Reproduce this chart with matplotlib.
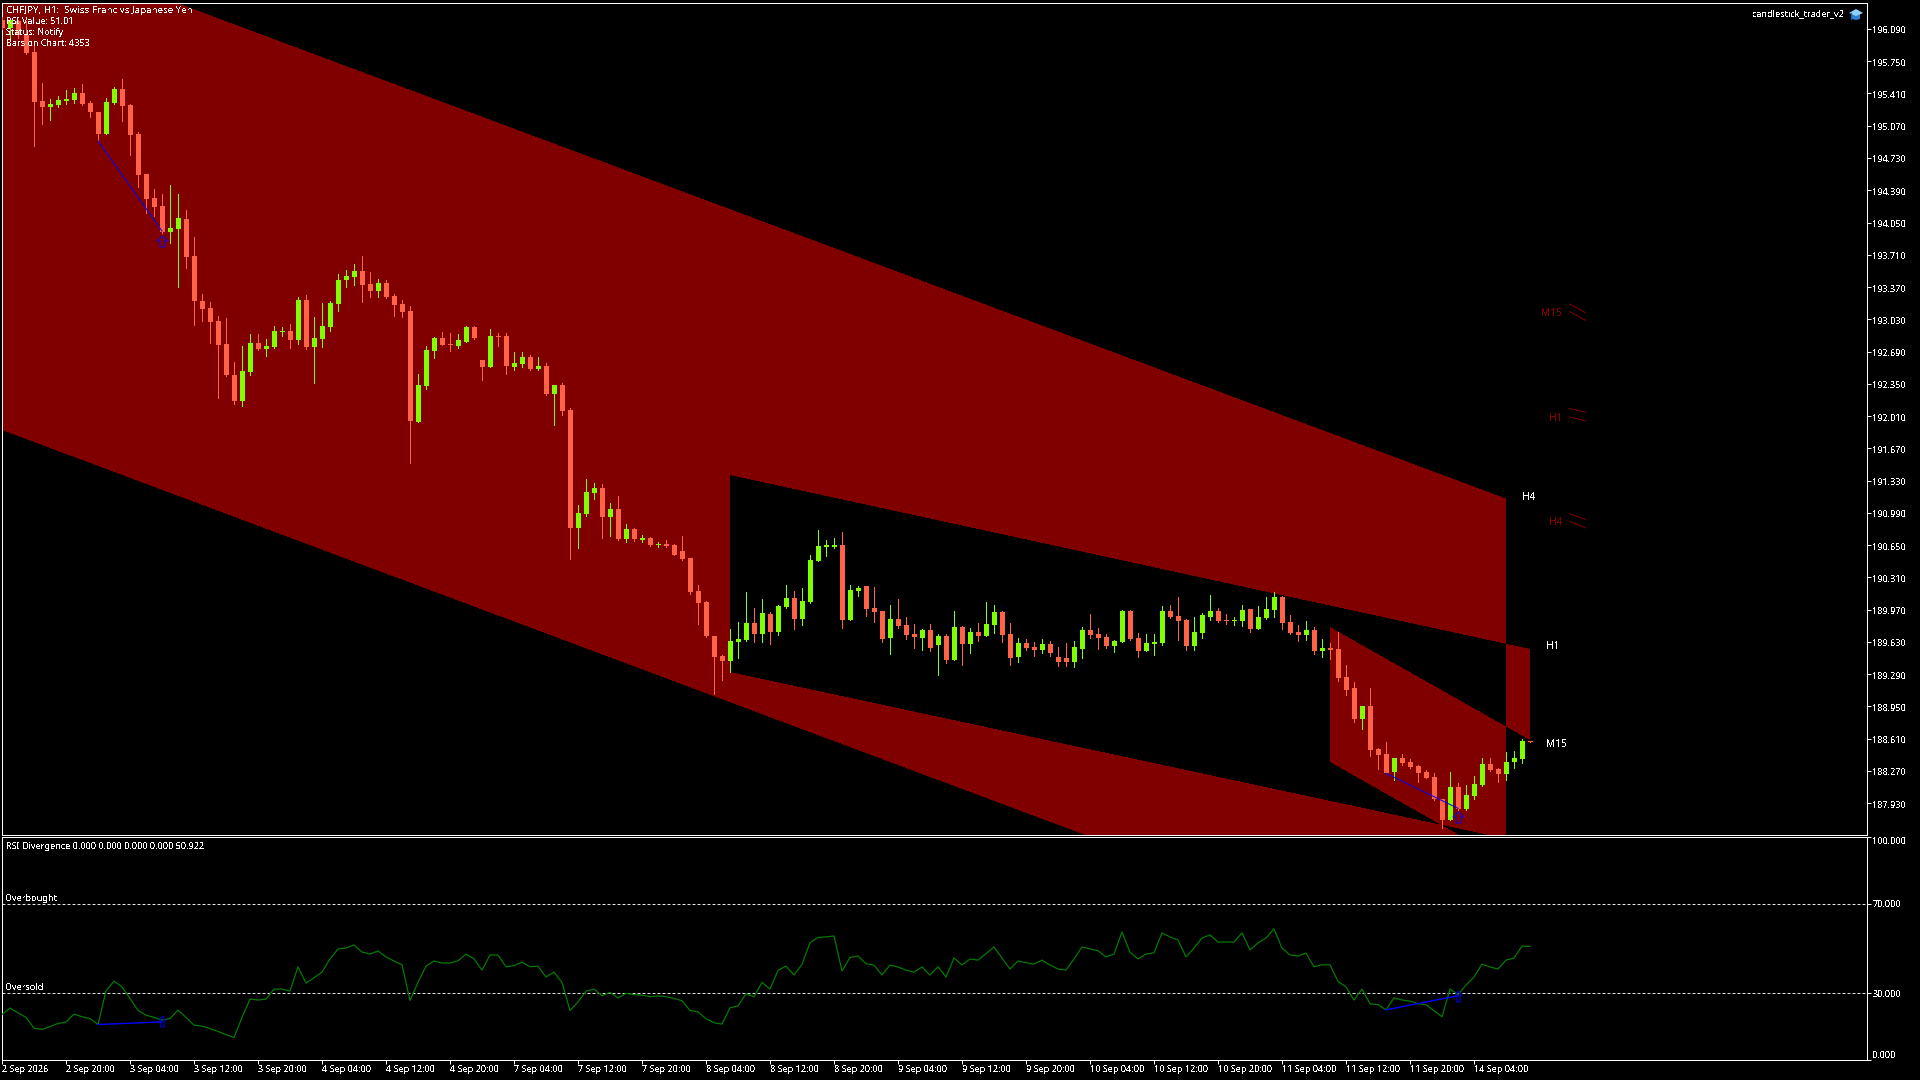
import numpy as np
import matplotlib
matplotlib.use("Agg")
import matplotlib.pyplot as plt
from matplotlib.colors import ListedColormap
from matplotlib.patches import Polygon
from matplotlib.lines import Line2D
from matplotlib.path import Path
from matplotlib.transforms import ScaledTranslation

opens = [196.18,196.10,196.17,196.03,195.85,195.33,195.27,195.29,195.33,195.34,
195.42,195.31,195.21,194.98,195.31,195.46,195.29,194.98,194.56,194.31,
194.22,193.95,193.98,194.09,193.70,193.22,193.15,193.01,192.77,192.44,
192.17,192.47,192.78,192.72,192.74,192.90,192.91,192.81,193.23,192.74,
192.82,192.95,193.19,193.44,193.48,193.54,193.40,193.33,193.41,193.27,
193.19,193.12,191.95,192.33,192.70,192.83,192.77,192.75,192.79,192.95,
192.60,192.53,192.85,192.85,192.53,192.56,192.63,192.51,192.54,192.24,
192.34,192.07,190.83,190.98,191.20,191.25,190.95,191.03,190.71,190.82,
190.70,190.72,190.65,190.66,190.65,190.59,190.51,190.16,190.05,189.69,
189.48,189.43,189.63,189.65,189.83,189.71,189.92,189.73,190.00,190.09,
189.87,190.05,190.48,190.63,190.63,190.65,189.86,190.17,190.22,189.99,
189.95,189.67,189.87,189.81,189.71,189.67,189.75,189.60,189.69,189.44,
189.79,189.61,189.73,189.69,189.81,189.94,189.71,189.47,189.62,189.57,
189.54,189.61,189.47,189.46,189.42,189.55,189.75,189.71,189.68,189.59,
189.63,189.95,189.67,189.53,189.61,189.62,189.95,189.90,189.86,189.59,
189.72,189.89,189.95,189.86,189.85,189.85,189.98,189.76,189.88,189.96,
190.10,189.84,189.73,189.70,189.75,189.53,189.56,189.55,189.26,189.14,
188.82,188.95,188.50,188.45,188.26,188.40,188.36,188.32,188.26,188.20,
187.97,187.75,188.10,187.87,188.00,188.12,188.34,188.29,188.24,188.36,188.39,188.58]

closes = [196.10,196.18,196.03,195.84,195.32,195.27,195.30,195.34,195.35,195.42,
195.30,195.22,194.98,195.32,195.46,195.28,194.97,194.55,194.30,194.21,
193.95,193.99,194.10,193.69,193.22,193.14,193.00,192.76,192.44,192.17,
192.48,192.78,192.72,192.75,192.91,192.91,192.81,193.23,192.74,192.83,
192.96,193.20,193.44,193.49,193.54,193.39,193.33,193.41,193.26,193.18,
193.11,191.96,192.34,192.71,192.83,192.76,192.76,192.81,192.95,192.83,
192.53,192.85,192.84,192.54,192.57,192.63,192.51,192.54,192.24,192.34,
192.06,190.83,190.99,191.21,191.25,190.95,191.03,190.71,190.82,190.71,
190.72,190.65,190.66,190.64,190.55,190.50,190.15,190.04,189.69,189.47,
189.43,189.64,189.66,189.83,189.71,189.93,189.73,190.01,190.09,189.87,
190.06,190.49,190.64,190.65,190.65,189.86,190.18,190.20,189.98,189.94,
189.66,189.87,189.80,189.70,189.68,189.75,189.56,189.69,189.44,189.79,
189.61,189.73,189.69,189.82,189.94,189.70,189.46,189.62,189.56,189.54,
189.61,189.51,189.42,189.42,189.57,189.75,189.70,189.67,189.59,189.64,
189.95,189.66,189.53,189.62,189.63,189.95,189.89,189.85,189.59,189.73,
189.91,189.95,189.85,189.85,189.86,189.96,189.76,189.89,189.98,190.10,
189.83,189.72,189.70,189.75,189.53,189.56,189.54,189.25,189.12,188.82,
188.95,188.49,188.44,188.25,188.40,188.35,188.31,188.25,188.19,187.97,
187.75,188.10,187.87,188.01,188.13,188.34,188.28,188.24,188.36,188.40,188.58,188.57]

highs = [196.22,196.20,196.19,196.17,195.94,195.52,195.35,195.38,195.45,195.47,
195.51,195.33,195.21,195.36,195.48,195.56,195.30,195.00,194.56,194.40,
194.35,194.45,194.35,194.18,193.90,193.30,193.21,193.06,193.04,192.58,
192.75,192.87,192.87,192.82,192.96,192.95,192.98,193.26,193.29,193.05,
193.20,193.22,193.51,193.55,193.61,193.70,193.53,193.45,193.44,193.30,
193.23,193.17,192.45,192.75,192.84,192.90,192.89,192.87,192.96,192.96,
192.60,192.93,192.88,192.89,192.69,192.68,192.65,192.63,192.57,192.34,
192.36,192.09,191.07,191.35,191.30,191.29,191.09,191.17,190.87,190.83,
190.76,190.73,190.68,190.70,190.66,190.74,190.51,190.23,190.06,189.69,
189.49,189.76,189.84,190.15,189.99,190.08,189.94,190.02,190.23,190.17,
190.20,190.54,190.81,190.70,190.72,190.79,190.23,190.22,190.22,190.21,
189.95,190.02,190.08,189.89,189.82,189.76,189.82,189.71,189.71,189.95,
189.80,189.77,189.83,190.05,190.02,189.95,189.83,189.67,189.66,189.63,
189.66,189.64,189.57,189.62,189.64,189.79,189.92,189.77,189.71,189.65,
189.97,189.96,189.72,189.71,189.71,190.01,190.02,190.10,189.87,189.89,
189.93,190.12,189.99,189.92,189.89,190.02,189.98,190.01,190.10,190.15,
190.11,189.91,189.81,189.85,189.79,189.66,189.62,189.73,189.38,189.21,
188.95,189.14,188.51,188.57,188.40,188.45,188.39,188.33,188.28,188.25,
187.97,188.26,188.14,188.12,188.21,188.40,188.41,188.30,188.47,188.48,188.60,188.58]

lows = [196.09,196.00,196.00,195.83,194.86,195.09,195.13,195.27,195.30,195.31,
195.29,195.16,194.91,194.98,195.30,195.12,194.76,194.42,194.15,194.12,
193.94,193.83,193.37,193.57,192.97,193.01,192.78,192.20,192.43,192.14,
192.12,192.44,192.71,192.64,192.73,192.85,192.73,192.77,192.72,192.36,
192.74,192.91,193.12,193.37,193.39,193.21,193.26,193.26,193.25,193.06,
193.05,191.51,191.95,192.29,192.62,192.76,192.70,192.73,192.79,192.82,
192.39,192.53,192.75,192.45,192.50,192.53,192.50,192.50,192.23,191.92,
192.02,190.50,190.62,190.96,191.13,190.72,190.75,190.70,190.68,190.69,
190.68,190.64,190.63,190.63,190.54,190.49,190.13,189.82,189.68,189.08,
189.23,189.31,189.46,189.64,189.63,189.63,189.61,189.70,189.99,189.76,
189.81,190.04,190.48,190.53,190.62,189.77,189.86,190.11,189.90,189.84,
189.63,189.50,189.77,189.66,189.56,189.54,189.53,189.28,189.41,189.44,
189.39,189.51,189.64,189.69,189.72,189.63,189.38,189.42,189.54,189.48,
189.51,189.48,189.37,189.37,189.36,189.46,189.67,189.55,189.56,189.52,
189.63,189.65,189.47,189.53,189.49,189.60,189.88,189.65,189.54,189.54,
189.67,189.86,189.84,189.82,189.81,189.80,189.73,189.76,189.87,189.89,
189.76,189.71,189.64,189.65,189.50,189.47,189.45,189.22,189.07,188.78,
188.71,188.43,188.29,188.25,188.17,188.33,188.30,188.15,188.19,187.96,
187.67,187.75,187.86,187.86,187.97,188.11,188.27,188.15,188.17,188.30,188.35,188.57]

rsi = [20.4,23.3,21.2,19.1,14.3,13.7,15.0,16.4,17.0,20.6,19.4,18.6,15.9,31.0,35.4,32.8,27.6,22.2,20.1,19.1,
17.9,18.6,22.4,19.1,15.6,15.2,14.1,12.8,11.4,10.1,19.1,27.3,26.9,27.3,31.8,31.8,30.9,41.8,34.5,36.9,
39.4,45.3,49.8,50.2,51.6,48.4,47.5,48.9,46.2,44.4,42.7,26.7,34.8,42.1,44.4,43.5,43.5,44.5,47.5,45.4,
40.3,47.1,47.1,41.8,42.3,43.9,41.8,42.1,37.2,39.4,34.8,22.2,26.0,30.9,31.8,28.8,30.3,27.8,29.9,29.3,
29.1,28.4,28.7,28.4,27.6,26.6,22.2,21.6,18.5,16.7,16.1,23.4,24.3,29.7,28.4,34.8,31.8,40.2,42.1,38.1,
42.9,52.6,55.0,55.2,55.6,39.9,46.0,46.6,43.2,42.6,38.1,42.6,41.7,40.3,39.4,41.7,38.1,41.8,37.2,45.7,
42.6,45.3,44.8,47.7,50.7,45.7,40.8,44.4,43.6,43.0,44.8,42.6,40.8,40.3,45.3,50.7,49.8,49.0,46.2,47.5,
57.4,48.4,45.3,47.5,48.1,57.0,55.2,53.8,46.2,50.2,54.7,56.1,52.9,52.9,52.9,57.0,49.3,52.5,54.7,58.8,
50.2,47.1,46.6,48.0,41.8,42.7,42.7,35.2,32.8,26.9,31.8,25.2,24.8,22.5,27.9,26.9,26.4,25.2,24.8,22.1,
19.4,31.8,29.3,33.6,37.2,43.0,41.7,40.8,44.8,45.7,51.1,50.9]

time_labels = ["2 Sep 2026","2 Sep 20:00","3 Sep 04:00","3 Sep 12:00","3 Sep 20:00","4 Sep 04:00",
"4 Sep 12:00","4 Sep 20:00","7 Sep 04:00","7 Sep 12:00","7 Sep 20:00","8 Sep 04:00","8 Sep 12:00",
"8 Sep 20:00","9 Sep 04:00","9 Sep 12:00","9 Sep 20:00","10 Sep 04:00","10 Sep 12:00","10 Sep 20:00",
"11 Sep 04:00","11 Sep 12:00","11 Sep 20:00","14 Sep 04:00"]
time_ticks = list(range(0, 192, 8))
price_ticks = [196.09,195.75,195.41,195.07,194.73,194.39,194.05,193.71,193.37,193.03,192.69,192.35,
192.01,191.67,191.33,190.99,190.65,190.31,189.97,189.63,189.29,188.95,188.61,188.27,187.93]
rsi_ticks = [0, 30, 70, 100]

# channels: first bar, last bar, upper price at first, upper price at last, lower at first, lower at last
ch_h4 = (-5, 188, 197.21, 191.14, 192.02, 185.935)
ch_h1 = (91, 191, 191.388, 189.554, 189.311, 187.50)
ch_m15 = (166, 191, 189.786, 188.594, 188.362, 187.17)
channels = [ch_h4, ch_h1, ch_m15]

price_div_bars = [[12, 20], [173, 182]]
price_div_vals = [[194.91, 193.96], [188.243, 187.874]]
price_arrows_x = [20, 182]
price_arrows_y = [193.86, 187.78]
rsi_div_bars = [[12, 20], [173, 182]]
rsi_div_vals = [[15.9, 17.1], [22.5, 28.8]]
rsi_arrows_y = [17.4, 28.6]

ghost_names = ["M15", "H1", "H4"]
ghost_y = [193.09, 191.985, 190.89]
ghost_bars = [195.94, 197.94]
ghost_upper = [[193.19, 193.10], [192.09, 192.05], [190.98, 190.92]]
ghost_lower = [[193.11, 193.02], [192.00, 191.96], [190.90, 190.83]]
tf_names = ["H4", "H1", "M15"]
tf_bars = [190, 193, 193]
tf_y = [191.15, 189.585, 188.545]

info_lines = ["CHFJPY, H1:  Swiss Franc vs Japanese Yen", "RSI Value: 51.01", "Status: Notify", "Bars on Chart: 4353"]

FONT = "Noto Sans"
FS = 6.5
BG = "black"
RED = "#FF6347"
GREEN = "#7FFF00"
MAROON = "#800000"
W, H = 1920, 1080
plt.rcParams["font.family"] = [FONT, "DejaVu Sans"]
plt.rcParams["text.antialiased"] = False

fig = plt.figure(figsize=(W / 100, H / 100), dpi=100, facecolor=BG)

def rect(x0, y0, x1, y1):
    return [x0 / W, 1 - y1 / H, (x1 - x0) / W, (y1 - y0) / H]

def fx(x):
    return x / W

def fy(y):
    return 1 - y / H

ax = fig.add_axes(rect(2, 3, 1867, 835), facecolor=BG)
sub = fig.add_axes(rect(2, 837, 1867, 1060), facecolor=BG)
xmin, xmax = 0.0, 1865 / 8
pmax, pmin = 196.364, 187.593

# odd/even overlap fill of the channels, one cell per screen pixel
nx, ny = 1865, 832
gx = xmin + (np.arange(nx) + 0.5) * (xmax - xmin) / nx
gy = pmax - (np.arange(ny) + 0.5) * (pmax - pmin) / ny
X, Y = np.meshgrid(gx, gy)
parity = np.zeros(X.shape, dtype=int)
for b0, b1, u0, u1, l0, l1 in channels:
    t = (X - b0) / (b1 - b0)
    upper = u0 + (u1 - u0) * t
    lower = l0 + (l1 - l0) * t
    parity += ((X >= b0) & (X <= b1) & (Y <= upper) & (Y >= lower)).astype(int)
ax.imshow(parity % 2, extent=[xmin, xmax, pmin, pmax], aspect="auto", origin="upper",
          cmap=ListedColormap([BG, MAROON]), vmin=0, vmax=1, interpolation="nearest", zorder=0)

bars = np.arange(len(opens))
o, c, hi, lo = map(np.array, (opens, closes, highs, lows))
colors = np.where(c >= o, GREEN, RED)
ax.vlines(bars, lo, hi, colors=colors, linewidth=0.72, antialiased=False, zorder=3)
ax.bar(bars, np.maximum(np.abs(c - o), 0.0106), bottom=np.minimum(o, c), width=0.625,
       color=colors, linewidth=0, antialiased=False, zorder=4)

arrow = Path([(0, 1), (1, 0.1), (0.45, 0.1), (0.45, -1), (-0.45, -1), (-0.45, 0.1), (-1, 0.1), (0, 1)], closed=False)
arrow_slim = Path([(0, 1), (0.55, 0.2), (0.3, 0.2), (0.3, -1), (-0.3, -1), (-0.3, 0.2), (-0.55, 0.2), (0, 1)], closed=False)
for bx, vals in zip(price_div_bars, price_div_vals):
    ax.plot(bx, vals, color="#0000FF", lw=0.72, zorder=5)
ax.plot(price_arrows_x, price_arrows_y, ls="none", marker=arrow, ms=7.8, mfc="none", mec="#2200CC", mew=0.9, zorder=5)

for name, yy, up, dn in zip(ghost_names, ghost_y, ghost_upper, ghost_lower):
    ax.text(195.0, yy, name, color=MAROON, fontsize=FS + 0.8, ha="right", va="center", zorder=5)
    ax.plot(ghost_bars, up, color=MAROON, lw=0.72, zorder=5)
    ax.plot(ghost_bars, dn, color=MAROON, lw=0.72, zorder=5)
for name, bx, yy in zip(tf_names, tf_bars, tf_y):
    ax.text(bx, yy, name, color="white", fontsize=FS + 0.8, ha="left", va="center", zorder=5)

ax.set_xlim(xmin, xmax)
ax.set_ylim(pmin, pmax)
ax.set_xticks([])
ax.yaxis.tick_right()
ax.set_yticks(price_ticks)
ax.set_yticklabels([f"{v:.3f}" for v in price_ticks])
ax.tick_params(axis="y", colors="white", labelsize=FS, length=3.2, width=0.72, pad=0.5)
one_px_down = ScaledTranslation(0, -1 / 100, fig.dpi_scale_trans)
for lab in ax.get_yticklabels():
    lab.set_transform(lab.get_transform() + one_px_down)

sub.plot(bars, rsi, color="#008000", lw=0.85, zorder=3)
for level in (70, 30):
    sub.axhline(level, color="#E0E0E0", lw=0.72, ls=(0, (3, 2)), zorder=2)
for bx, vals in zip(rsi_div_bars, rsi_div_vals):
    sub.plot(bx, vals, color="#0000FF", lw=1.0, zorder=4)
sub.plot([20, 182], rsi_arrows_y, ls="none", marker=arrow_slim, ms=7.8, mfc="none", mec="#0000CC", mew=0.9, zorder=5)
sub.set_xlim(xmin, xmax)
sub.set_ylim(0, 100)
sub.yaxis.tick_right()
sub.set_yticks(rsi_ticks)
sub.set_yticklabels([f"{v:.3f}" for v in rsi_ticks])
sub.get_yticklabels()[0].set_va("bottom")
sub.get_yticklabels()[3].set_va("top")
sub.set_xticks(time_ticks)
sub.set_xticklabels(time_labels, ha="left")
sub.tick_params(axis="y", colors="white", labelsize=FS, length=3.2, width=0.72, pad=0.5)
sub.tick_params(axis="x", colors="white", labelsize=FS, length=3.2, width=0.72, pad=0.3)

for a in (ax, sub):
    for s in a.spines.values():
        s.set_color("white")
        s.set_linewidth(0.72)

for i, line in enumerate(info_lines):
    fig.text(fx(6.5), fy(10.5 + 11 * i), line, color="white", fontsize=7.0 if i == 0 else FS, ha="left", va="center", zorder=10)
fig.text(fx(5.5), fy(846.5), "RSI Divergence 0.000 0.000 0.000 0.000 50.922", color="white", fontsize=FS, ha="left", va="center")
fig.text(fx(5.5), fy(898.5), "Overbought", color="white", fontsize=FS, ha="left", va="center")
fig.text(fx(5.5), fy(987.5), "Oversold", color="white", fontsize=FS, ha="left", va="center")
fig.text(fx(1844), fy(13.5), "candlestick_trader_v2", color="white", fontsize=FS, ha="right", va="center")

def poly(pts, color):
    fig.add_artist(Polygon([(fx(x), fy(y)) for x, y in pts], closed=True, facecolor=color, edgecolor="none", transform=fig.transFigure))

poly([(1852, 14), (1860, 14), (1860, 19), (1856, 20), (1852, 19)], "#2F7FD0")
poly([(1849, 13), (1856, 9), (1863, 13), (1856, 16)], "#8FD0FF")
fig.add_artist(Line2D([fx(1850.5), fx(1850.5)], [fy(13), fy(19)], color="#1F5FA0", lw=0.9, transform=fig.transFigure))

fig.savefig("out.png", dpi=100, facecolor=BG)
